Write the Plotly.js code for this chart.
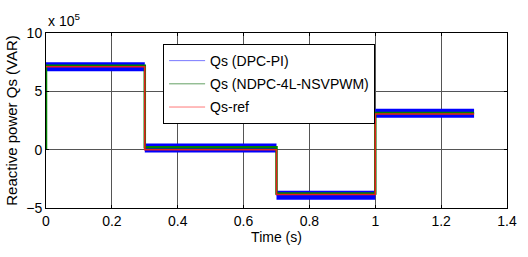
<!DOCTYPE html>
<html>
<head>
<meta charset="utf-8">
<script src="https://cdn.plot.ly/plotly-3.0.1.min.js"></script>
<style>html,body{margin:0;padding:0;background:#fff;}#chart{width:528px;height:257px;}</style>
</head>
<body>
<div id="chart"></div>
<script>
// Time breakpoints (s)
const tDpc = [0, 0.3, null, 0.3, 0.7, null, 0.7, 1.0, null, 1.0, 1.3];
// DPC-PI reactive power (x1e5 VAR), centre of noisy band
const qDpc = [7.1, 7.1, null, 0.15, 0.15, null, -3.9, -3.9, null, 3.12, 3.12];
// NDPC-4L-NSVPWM
const tNdpc = [0, 0, 0.3, 0.3, 0.7, 0.7, 1.0, 1.0, 1.3];
const qNdpc = [0, 7.2, 7.2, 0.2, 0.2, -3.75, -3.75, 3.15, 3.15];
// Reference
const tRef = [0, 0.3, 0.3, 0.7, 0.7, 1.0, 1.0, 1.3];
const qRef = [7.1, 7.1, 0, 0, -3.85, -3.85, 3.05, 3.05];

const names = ['Qs (DPC-PI)', 'Qs (NDPC-4L-NSVPWM)', 'Qs-ref'];
const font = 'Liberation Sans, Arial, sans-serif';

const traces = [
  // pale legend-carrying traces (hidden beneath the main traces)
  {x: tDpc, y: qDpc, mode: 'lines', name: names[0], line: {color: 'rgb(120,120,255)', width: 1}, legendgroup: 'a', hoverinfo: 'skip'},
  {x: tNdpc, y: qNdpc, mode: 'lines', name: names[1], line: {color: 'rgb(100,160,100)', width: 1}, legendgroup: 'b', hoverinfo: 'skip'},
  {x: tRef, y: qRef, mode: 'lines', name: names[2], line: {color: 'rgb(255,120,120)', width: 1}, legendgroup: 'c', hoverinfo: 'skip'},
  // main drawn traces
  {x: tDpc, y: qDpc, mode: 'lines', line: {color: 'rgb(0,0,255)', width: 9}, showlegend: false, connectgaps: false, hoverinfo: 'skip'},
  {x: tNdpc, y: qNdpc, mode: 'lines', line: {color: 'rgb(0,128,0)', width: 2.5}, showlegend: false, hoverinfo: 'skip'},
  {x: tRef, y: qRef, mode: 'lines', line: {color: 'rgb(230,30,30)', width: 1.5}, showlegend: false, hoverinfo: 'skip'}
];

const axisCommon = {
  showline: true, linecolor: '#000', linewidth: 1, mirror: 'allticks',
  ticks: 'inside', ticklen: 3, tickcolor: '#000',
  showgrid: true, gridcolor: '#555', gridwidth: 1,
  zeroline: false,
  tickfont: {family: font, size: 14, color: '#000'}
};

const layout = {
  width: 528, height: 257,
  margin: {l: 46, r: 21, t: 33, b: 49},
  paper_bgcolor: '#fff', plot_bgcolor: '#fff',
  font: {family: font, color: '#000'},
  xaxis: Object.assign({}, axisCommon, {
    range: [0, 1.4], dtick: 0.2, tick0: 0,
    title: {text: 'Time (s)', font: {family: font, size: 14, color: '#000'}, standoff: 4}
  }),
  yaxis: Object.assign({}, axisCommon, {
    range: [-5, 10], dtick: 5, tick0: 0,
    title: {text: 'Reactive power Qs (VAR)', font: {family: font, size: 15, color: '#000'}, standoff: 4}
  }),
  legend: {
    x: 0.254, y: 0.937, xanchor: 'left', yanchor: 'top',
    bgcolor: '#fff', bordercolor: '#000', borderwidth: 1,
    font: {family: font, size: 14, color: '#000'},
    traceorder: 'grouped', tracegroupgap: 2, itemwidth: 36
  },
  annotations: [{
    xref: 'paper', yref: 'paper', x: 0, y: 1, xanchor: 'left', yanchor: 'bottom',
    yshift: 2, showarrow: false, text: 'x 10<sup>5</sup>',
    font: {family: font, size: 14, color: '#000'}
  }],
  showlegend: true
};

Plotly.newPlot('chart', traces, layout, {staticPlot: true, displayModeBar: false});
</script>
</body>
</html>
